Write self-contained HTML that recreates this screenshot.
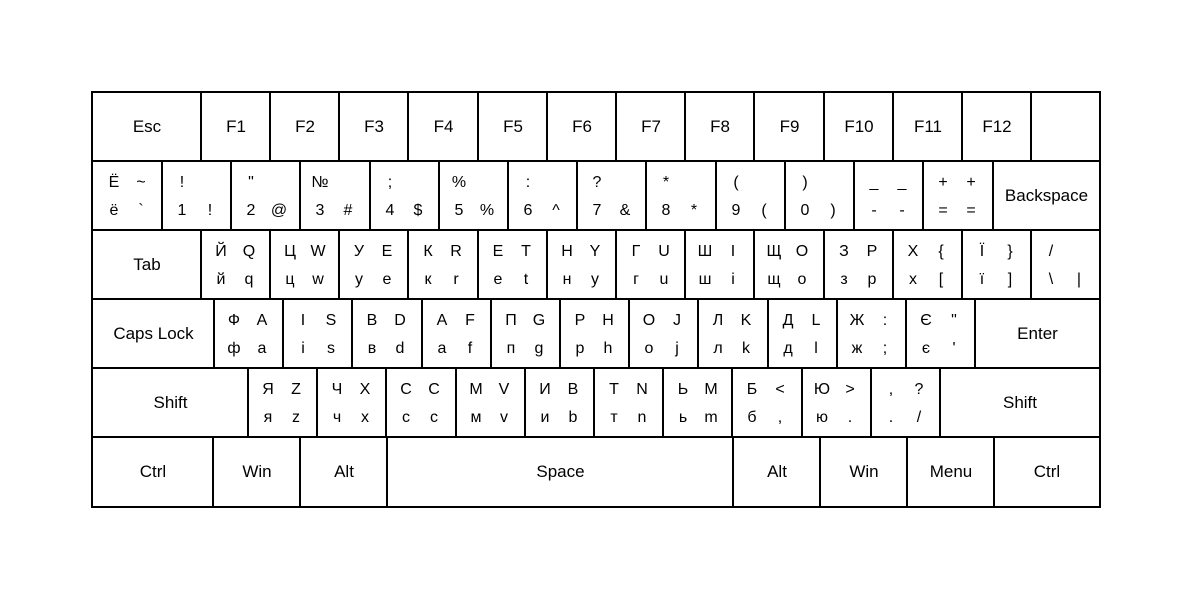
<!DOCTYPE html>
<html><head><meta charset="utf-8"><style>
body{margin:0;width:1200px;height:600px;background:#fff;position:relative;overflow:hidden;font-family:"Liberation Sans","DejaVu Sans",sans-serif;color:#000}
.k{position:absolute;box-sizing:border-box;border:2px solid #000;background:#fff}
.k.l{display:flex;align-items:center;justify-content:center;font-size:17px}
.k span{position:absolute;width:24px;text-align:center;font-size:16px;line-height:18px}
.a{left:7px;top:12px}.b{left:35px;top:12px}.c{left:7px;top:40px}.d{left:35px;top:40px}
</style></head><body>
<!-- Row 1 -->
<div class="k l" style="left:91px;top:91px;width:112px;height:72px">Esc</div>
<div class="k l" style="left:200px;top:91px;width:72px;height:72px">F1</div>
<div class="k l" style="left:269px;top:91px;width:72px;height:72px">F2</div>
<div class="k l" style="left:338px;top:91px;width:72px;height:72px">F3</div>
<div class="k l" style="left:407px;top:91px;width:73px;height:72px">F4</div>
<div class="k l" style="left:477px;top:91px;width:72px;height:72px">F5</div>
<div class="k l" style="left:546px;top:91px;width:72px;height:72px">F6</div>
<div class="k l" style="left:615px;top:91px;width:72px;height:72px">F7</div>
<div class="k l" style="left:684px;top:91px;width:72px;height:72px">F8</div>
<div class="k l" style="left:753px;top:91px;width:73px;height:72px">F9</div>
<div class="k l" style="left:823px;top:91px;width:72px;height:72px">F10</div>
<div class="k l" style="left:892px;top:91px;width:72px;height:72px">F11</div>
<div class="k l" style="left:961px;top:91px;width:72px;height:72px">F12</div>
<div class="k" style="left:1030px;top:91px;width:71px;height:72px"></div>
<!-- Row 2 -->
<div class="k" style="left:91px;top:160px;width:73px;height:72px"><span class="a" style="left:9px">Ё</span><span class="b" style="left:36px">~</span><span class="c" style="left:9px">ё</span><span class="d" style="left:36px">`</span></div>
<div class="k" style="left:161px;top:160px;width:72px;height:72px"><span class="a">!</span><span class="c">1</span><span class="d">!</span></div>
<div class="k" style="left:230px;top:160px;width:72px;height:72px"><span class="a">"</span><span class="c">2</span><span class="d">@</span></div>
<div class="k" style="left:299px;top:160px;width:73px;height:72px"><span class="a">№</span><span class="c">3</span><span class="d">#</span></div>
<div class="k" style="left:369px;top:160px;width:72px;height:72px"><span class="a">;</span><span class="c">4</span><span class="d">$</span></div>
<div class="k" style="left:438px;top:160px;width:72px;height:72px"><span class="a">%</span><span class="c">5</span><span class="d">%</span></div>
<div class="k" style="left:507px;top:160px;width:72px;height:72px"><span class="a">:</span><span class="c">6</span><span class="d">^</span></div>
<div class="k" style="left:576px;top:160px;width:72px;height:72px"><span class="a">?</span><span class="c">7</span><span class="d">&amp;</span></div>
<div class="k" style="left:645px;top:160px;width:73px;height:72px"><span class="a">*</span><span class="c">8</span><span class="d">*</span></div>
<div class="k" style="left:715px;top:160px;width:72px;height:72px"><span class="a">(</span><span class="c">9</span><span class="d">(</span></div>
<div class="k" style="left:784px;top:160px;width:72px;height:72px"><span class="a">)</span><span class="c">0</span><span class="d">)</span></div>
<div class="k" style="left:853px;top:160px;width:72px;height:72px"><span class="a">_</span><span class="b">_</span><span class="c">-</span><span class="d">-</span></div>
<div class="k" style="left:922px;top:160px;width:73px;height:72px"><span class="a">+</span><span class="b">+</span><span class="c">=</span><span class="d">=</span></div>
<div class="k l" style="left:992px;top:160px;width:109px;height:72px">Backspace</div>
<!-- Row 3 -->
<div class="k l" style="left:91px;top:229px;width:112px;height:72px">Tab</div>
<div class="k" style="left:200px;top:229px;width:72px;height:72px"><span class="a">Й</span><span class="b">Q</span><span class="c">й</span><span class="d">q</span></div>
<div class="k" style="left:269px;top:229px;width:72px;height:72px"><span class="a">Ц</span><span class="b">W</span><span class="c">ц</span><span class="d">w</span></div>
<div class="k" style="left:338px;top:229px;width:72px;height:72px"><span class="a">У</span><span class="b">E</span><span class="c">у</span><span class="d">e</span></div>
<div class="k" style="left:407px;top:229px;width:73px;height:72px"><span class="a">К</span><span class="b">R</span><span class="c">к</span><span class="d">r</span></div>
<div class="k" style="left:477px;top:229px;width:72px;height:72px"><span class="a">Е</span><span class="b">T</span><span class="c">е</span><span class="d">t</span></div>
<div class="k" style="left:546px;top:229px;width:72px;height:72px"><span class="a">Н</span><span class="b">Y</span><span class="c">н</span><span class="d">y</span></div>
<div class="k" style="left:615px;top:229px;width:72px;height:72px"><span class="a">Г</span><span class="b">U</span><span class="c">г</span><span class="d">u</span></div>
<div class="k" style="left:684px;top:229px;width:72px;height:72px"><span class="a">Ш</span><span class="b">I</span><span class="c">ш</span><span class="d">i</span></div>
<div class="k" style="left:753px;top:229px;width:73px;height:72px"><span class="a">Щ</span><span class="b">O</span><span class="c">щ</span><span class="d">o</span></div>
<div class="k" style="left:823px;top:229px;width:72px;height:72px"><span class="a">З</span><span class="b">P</span><span class="c">з</span><span class="d">p</span></div>
<div class="k" style="left:892px;top:229px;width:72px;height:72px"><span class="a">Х</span><span class="b">{</span><span class="c">х</span><span class="d">[</span></div>
<div class="k" style="left:961px;top:229px;width:72px;height:72px"><span class="a">Ї</span><span class="b">}</span><span class="c">ї</span><span class="d">]</span></div>
<div class="k" style="left:1030px;top:229px;width:71px;height:72px"><span class="a">/</span><span class="c">\</span><span class="d">|</span></div>
<!-- Row 4 -->
<div class="k l" style="left:91px;top:298px;width:125px;height:72px">Caps Lock</div>
<div class="k" style="left:213px;top:298px;width:72px;height:72px"><span class="a">Ф</span><span class="b">A</span><span class="c">ф</span><span class="d">a</span></div>
<div class="k" style="left:282px;top:298px;width:72px;height:72px"><span class="a">І</span><span class="b">S</span><span class="c">і</span><span class="d">s</span></div>
<div class="k" style="left:351px;top:298px;width:73px;height:72px"><span class="a">В</span><span class="b">D</span><span class="c">в</span><span class="d">d</span></div>
<div class="k" style="left:421px;top:298px;width:72px;height:72px"><span class="a">А</span><span class="b">F</span><span class="c">а</span><span class="d">f</span></div>
<div class="k" style="left:490px;top:298px;width:72px;height:72px"><span class="a">П</span><span class="b">G</span><span class="c">п</span><span class="d">g</span></div>
<div class="k" style="left:559px;top:298px;width:72px;height:72px"><span class="a">Р</span><span class="b">H</span><span class="c">р</span><span class="d">h</span></div>
<div class="k" style="left:628px;top:298px;width:72px;height:72px"><span class="a">О</span><span class="b">J</span><span class="c">о</span><span class="d">j</span></div>
<div class="k" style="left:697px;top:298px;width:73px;height:72px"><span class="a">Л</span><span class="b">K</span><span class="c">л</span><span class="d">k</span></div>
<div class="k" style="left:767px;top:298px;width:72px;height:72px"><span class="a">Д</span><span class="b">L</span><span class="c">д</span><span class="d">l</span></div>
<div class="k" style="left:836px;top:298px;width:72px;height:72px"><span class="a">Ж</span><span class="b">:</span><span class="c">ж</span><span class="d">;</span></div>
<div class="k" style="left:905px;top:298px;width:72px;height:72px"><span class="a">Є</span><span class="b">"</span><span class="c">є</span><span class="d">'</span></div>
<div class="k l" style="left:974px;top:298px;width:127px;height:72px">Enter</div>
<!-- Row 5 -->
<div class="k l" style="left:91px;top:367px;width:159px;height:72px">Shift</div>
<div class="k" style="left:247px;top:367px;width:72px;height:72px"><span class="a">Я</span><span class="b">Z</span><span class="c">я</span><span class="d">z</span></div>
<div class="k" style="left:316px;top:367px;width:72px;height:72px"><span class="a">Ч</span><span class="b">X</span><span class="c">ч</span><span class="d">x</span></div>
<div class="k" style="left:385px;top:367px;width:73px;height:72px"><span class="a">С</span><span class="b">C</span><span class="c">с</span><span class="d">c</span></div>
<div class="k" style="left:455px;top:367px;width:72px;height:72px"><span class="a">М</span><span class="b">V</span><span class="c">м</span><span class="d">v</span></div>
<div class="k" style="left:524px;top:367px;width:72px;height:72px"><span class="a">И</span><span class="b">B</span><span class="c">и</span><span class="d">b</span></div>
<div class="k" style="left:593px;top:367px;width:72px;height:72px"><span class="a">Т</span><span class="b">N</span><span class="c">т</span><span class="d">n</span></div>
<div class="k" style="left:662px;top:367px;width:72px;height:72px"><span class="a">Ь</span><span class="b">M</span><span class="c">ь</span><span class="d">m</span></div>
<div class="k" style="left:731px;top:367px;width:73px;height:72px"><span class="a">Б</span><span class="b">&lt;</span><span class="c">б</span><span class="d">,</span></div>
<div class="k" style="left:801px;top:367px;width:72px;height:72px"><span class="a">Ю</span><span class="b">&gt;</span><span class="c">ю</span><span class="d">.</span></div>
<div class="k" style="left:870px;top:367px;width:72px;height:72px"><span class="a">,</span><span class="b">?</span><span class="c">.</span><span class="d">/</span></div>
<div class="k l" style="left:939px;top:367px;width:162px;height:72px">Shift</div>
<!-- Row 6 -->
<div class="k l" style="left:91px;top:436px;width:124px;height:72px">Ctrl</div>
<div class="k l" style="left:212px;top:436px;width:90px;height:72px">Win</div>
<div class="k l" style="left:299px;top:436px;width:90px;height:72px">Alt</div>
<div class="k l" style="left:386px;top:436px;width:349px;height:72px">Space</div>
<div class="k l" style="left:732px;top:436px;width:90px;height:72px">Alt</div>
<div class="k l" style="left:819px;top:436px;width:90px;height:72px">Win</div>
<div class="k l" style="left:906px;top:436px;width:90px;height:72px">Menu</div>
<div class="k l" style="left:993px;top:436px;width:108px;height:72px">Ctrl</div>
</body></html>
